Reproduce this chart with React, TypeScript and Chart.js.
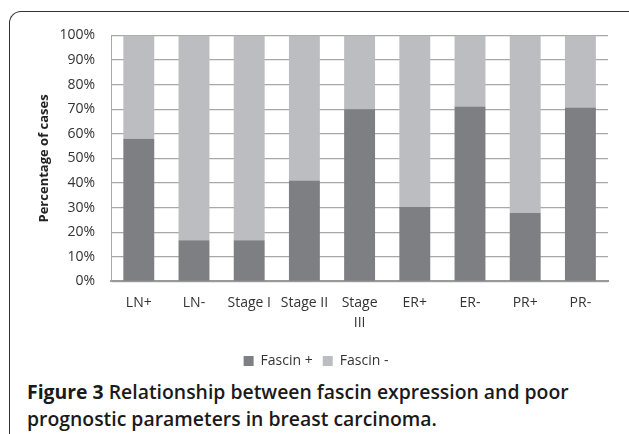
import React, { useEffect, useRef } from "react";
import { Chart, registerables } from "chart.js";

Chart.register(...registerables);

const categories: (string | string[])[] = ["LN+", "LN-", "Stage I", "Stage II", ["Stage", "III"], "ER+", "ER-", "PR+", "PR-"];
const fascinPos = [58, 16.7, 16.7, 41, 70, 30.2, 71.1, 27.8, 70.7];
const fascinNeg = fascinPos.map((v) => 100 - v);
const yTicks = [0, 10, 20, 30, 40, 50, 60, 70, 80, 90, 100];

export default function App() {
  const ref = useRef<HTMLCanvasElement | null>(null);
  useEffect(() => {
    document.body.style.margin = "0";
    const ctx = ref.current!;
    const font = "'Open Sans', sans-serif";
    const chart = new Chart(ctx, {
      type: "bar",
      data: {
        labels: categories,
        datasets: [
          { label: "Fascin +", data: fascinPos, backgroundColor: "#7e7f83", barPercentage: 0.56, categoryPercentage: 1 },
          { label: "Fascin -", data: fascinNeg, backgroundColor: "#bcbdc1", barPercentage: 0.56, categoryPercentage: 1 },
        ],
      },
      options: {
        animation: false,
        responsive: false,
        maintainAspectRatio: false,
        layout: { padding: { left: 14, right: 12, top: 5, bottom: 0 } },
        plugins: {
          legend: {
            position: "bottom",
            labels: {
              boxWidth: 10,
              boxHeight: 10,
              padding: 10,
              color: "#333",
              font: { family: font, size: 14 },
            },
          },
          tooltip: { enabled: false },
        },
        scales: {
          x: {
            stacked: true,
            grid: { display: false, drawTicks: false },
            border: { color: "#999", width: 2 },
            ticks: { color: "#333", font: { family: font, size: 14, lineHeight: 1.45 }, padding: 11, maxRotation: 0, autoSkip: false },
          },
          y: {
            stacked: true,
            min: 0,
            max: 100,
            afterBuildTicks: (axis: any) => {
              axis.ticks = yTicks.map((v) => ({ value: v }));
            },
            grid: { color: "#a8a8a8", drawTicks: false, lineWidth: 1.2 },
            border: { color: "#a8a8a8", width: 1 },
            ticks: {
              color: "#333",
              font: { family: font, size: 14 },
              padding: 16,
              callback: (v: any) => v + "%",
            },
            title: {
              display: true,
              text: "Percentage of cases",
              color: "#222",
              font: { family: font, size: 13, weight: "bold" },
              padding: { top: 12, bottom: -8 },
            },
          },
        },
      },
    });
    return () => chart.destroy();
  }, []);

  return (
    <div style={{ position: "relative", width: 629, height: 434, background: "#fff", overflow: "hidden", fontFamily: "'Open Sans', sans-serif" }}>
      <div
        style={{
          position: "absolute",
          left: 9,
          top: 11,
          width: 640,
          height: 440,
          borderTop: "1.5px solid #333",
          borderLeft: "1.5px solid #333",
          borderRight: "1.5px solid #333",
          borderRadius: "12px",
          boxSizing: "border-box",
        }}
      />
      <canvas ref={ref} width={610} height={367} style={{ position: "absolute", left: 10, top: 11, width: 610, height: 367 }} />
      <div
        style={{
          position: "absolute",
          left: 27,
          top: 378,
          fontSize: 19.4,
          lineHeight: "27px",
          color: "#1a1a1a",
          fontWeight: 600,
          whiteSpace: "nowrap",
        }}
      >
        <span style={{ fontWeight: 700 }}>Figure 3</span> Relationship between fascin expression and poor
        <br />
        prognostic parameters in breast carcinoma.
      </div>
    </div>
  );
}
